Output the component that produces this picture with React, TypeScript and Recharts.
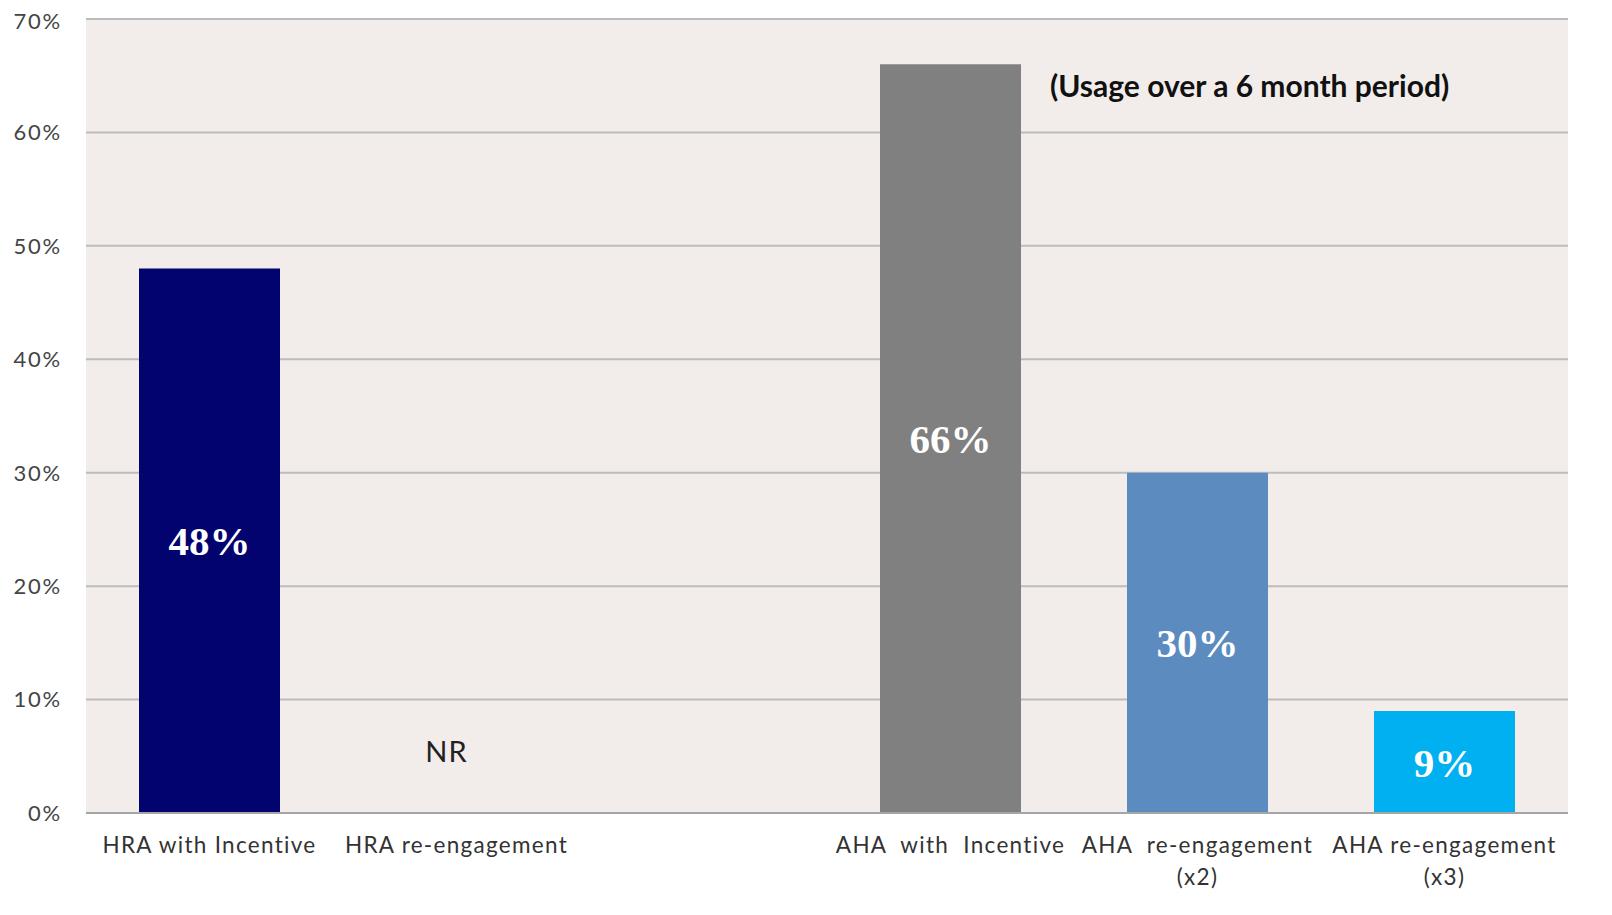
import React from 'react';
import { BarChart, Bar, XAxis, YAxis, CartesianGrid, Cell, LabelList, ReferenceDot } from 'recharts';

const categories = [
  'HRA with Incentive',
  'HRA re-engagement',
  '',
  'AHA  with  Incentive',
  'AHA  re-engagement\n(x2)',
  'AHA re-engagement\n(x3)',
];
const values: (number | null)[] = [48, null, null, 66, 30, 9];
const barColors = ['#03036f', '#03036f', '#03036f', '#808080', '#5b8bbf', '#00b0f0'];
const yTicks = [0, 10, 20, 30, 40, 50, 60, 70];
const noteCategory = 'HRA re-engagement';
const noteValue = 5.4;
const noteText = 'NR';
const annotation = '(Usage over a 6 month period)';

const data = categories.map((name, i) => ({ name, value: values[i] }));

const XTick = ({ x, y, payload }: any) => {
  const lines = String(payload.value).split('\n');
  return (
    <text x={x} y={y} textAnchor="middle" fill="#333" fontFamily="Lato, sans-serif" fontSize={22.5} letterSpacing={1.3}>
      {lines.map((line, i) => (
        <tspan key={i} x={x} dy={i === 0 ? 32 : 32} style={{ whiteSpace: 'pre' }}>{line}</tspan>
      ))}
    </text>
  );
};

const App = () => {
  return (
    <div style={{ position: 'relative', width: 1596, height: 900 }}>
      <BarChart width={1596} height={900} data={data} margin={{ top: 11, right: 36, bottom: 65, left: 0 }} barSize={141}>
        <CartesianGrid vertical={false} stroke="#bcbcbc" strokeWidth={2} fill="#f2edea" />
        <XAxis
          dataKey="name"
          height={30}
          interval={0}
          tickLine={false}
          axisLine={{ stroke: '#a6a6a6', strokeWidth: 2 }}
          tick={<XTick />}
        />
        <YAxis
          width={78}
          domain={[0, 70]}
          ticks={yTicks}
          tickFormatter={(v: number) => `${v}%`}
          axisLine={false}
          tickLine={false}
          tickMargin={18}
          tick={{ fill: '#444', fontFamily: 'Lato, sans-serif', fontSize: 22, letterSpacing: 1.8 }}
        />
        <Bar dataKey="value" isAnimationActive={false}>
          {data.map((d, i) => (
            <Cell key={i} fill={barColors[i]} />
          ))}
          <LabelList
            dataKey="value"
            position="center"
            formatter={(v: any) => (v == null ? '' : `${v}%`)}
            fill="#ffffff"
            fontFamily="'Liberation Serif', 'DejaVu Serif', serif"
            fontWeight="bold"
            fontSize={41}
          />
        </Bar>
        <ReferenceDot
          x={noteCategory}
          y={noteValue}
          r={0}
          fill="none"
          stroke="none"
          label={{ value: noteText, position: 'center', dx: -10, fill: '#222', fontFamily: 'Lato, sans-serif', fontSize: 29, letterSpacing: 1 }}
        />
      </BarChart>
      <div
        style={{
          position: 'absolute',
          left: 1042,
          top: 59,
          fontFamily: 'Lato, sans-serif',
          fontWeight: 700,
          fontSize: 30,
          color: '#111',
          whiteSpace: 'nowrap',
        }}
      >
        {annotation}
      </div>
    </div>
  );
};

export default App;
